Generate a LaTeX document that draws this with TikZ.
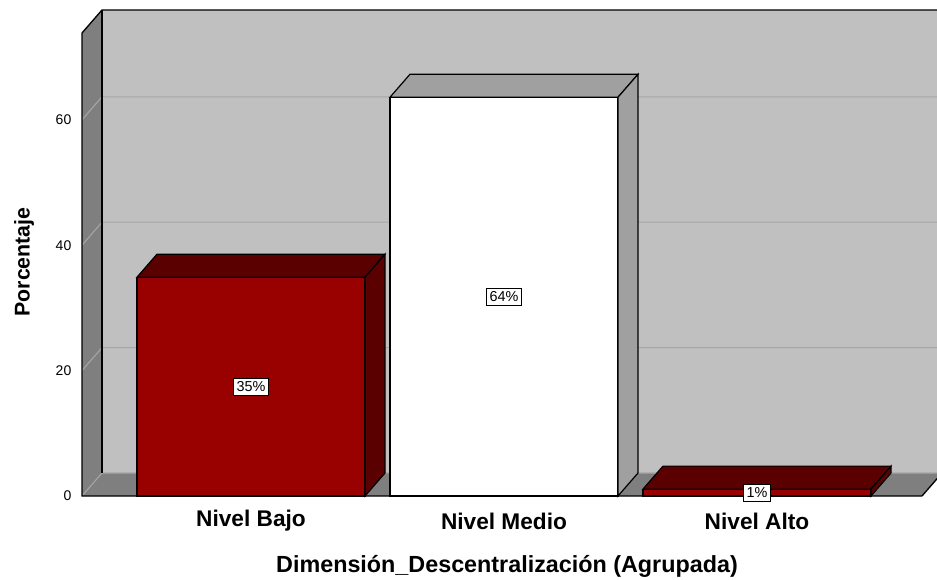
\documentclass[tikz,border=0pt]{standalone}
\usepackage{fontspec}
\setmainfont{Liberation Sans}

\newcommand{\drawbar}[6]{%
  % #1 left x, #2 value, #3 front colour, #4 shade colour, #5 name, #6 label
  \pgfmathsetmacro\bartop{496-6.27*#2}
  \pgfmathsetmacro\barback{\bartop-23}
  \fill[#3, draw=black, line width=0.9pt] (#1,\bartop) rectangle (#1+228,496);
  \fill[#4, draw=black, line width=0.9pt] (#1,\bartop) -- (#1+20,\barback) -- (#1+248,\barback) -- (#1+228,\bartop) -- cycle;
  \fill[#4, draw=black, line width=0.9pt] (#1+228,\bartop) -- (#1+248,\barback) -- (#1+248,473) -- (#1+228,496) -- cycle;
  \node[valbox] (#5) at (#1+114,{(\bartop+496)/2}) {#6};
}

\begin{document}
\begin{tikzpicture}[x=0.75pt, y=-0.75pt,
    valbox/.style={draw=black, fill=white, line width=0.6pt, inner sep=2.6pt, font=\fontsize{10.8}{12}\selectfont},
    catlabel/.style={font=\fontsize{17}{20}\selectfont\bfseries},
    ticklabel/.style={anchor=east, font=\fontsize{10.5}{12}\selectfont}]
  % Define colors
  \definecolor{wallcolor}{HTML}{C0C0C0}
  \definecolor{sidecolor}{HTML}{7F7F7F}
  \definecolor{barred}{HTML}{990000}
  \definecolor{bardark}{HTML}{5A0000}
  \definecolor{bargray}{HTML}{A0A0A0}
  \definecolor{gridcolor}{HTML}{A6A6A6}

  \useasboundingbox (0,0) rectangle (937,580);

  % Back wall, left wall and floor
  \fill[wallcolor] (102,10) rectangle (937,473);
  \fill[sidecolor] (82,33) -- (102,10) -- (102,473) -- (82,496) -- cycle;
  \fill[sidecolor] (82,496) -- (102,473) -- (942,473) -- (922,496) -- cycle;

  % Grid
  \foreach \v in {0,20,40,60} {
    \pgfmathsetmacro\gy{473-6.27*\v}
    \draw[gridcolor, line width=0.8pt] (82,\gy+23) -- (102,\gy) -- (937,\gy);
    \node[ticklabel] at (76,\gy+23) {\v};
  }

  % Frame
  \draw[black, line width=1pt] (937,10) -- (102,10) -- (82,33) -- (82,496) -- (922,496);
  \draw[black, line width=1pt] (102,10) -- (102,473);
  \draw[black, line width=1pt] (922,496) -- (942,473);

  % Bars
  \drawbar{137}{34.9}{barred}{bardark}{bajo}{35\%}
  \drawbar{390}{63.6}{white}{bargray}{medio}{64\%}
  \drawbar{643}{1.1}{barred}{bardark}{alto}{1\%}

  % Category labels
  \node[catlabel] (nbajo) at (251,521) {Nivel Bajo};
  \node[catlabel] (nmedio) at (504,521) {Nivel Medio};
  \node[catlabel] (nalto) at (757,521) {Nivel Alto};

  % Axis titles
  \node[catlabel, font=\fontsize{17.5}{20}\selectfont\bfseries] (xtitle) at (507,566) {Dimensión\_Descentralización (Agrupada)};
  \node[catlabel, font=\fontsize{16}{20}\selectfont\bfseries, rotate=90] (ytitle) at (24,262) {Porcentaje};
\end{tikzpicture}
\end{document}
